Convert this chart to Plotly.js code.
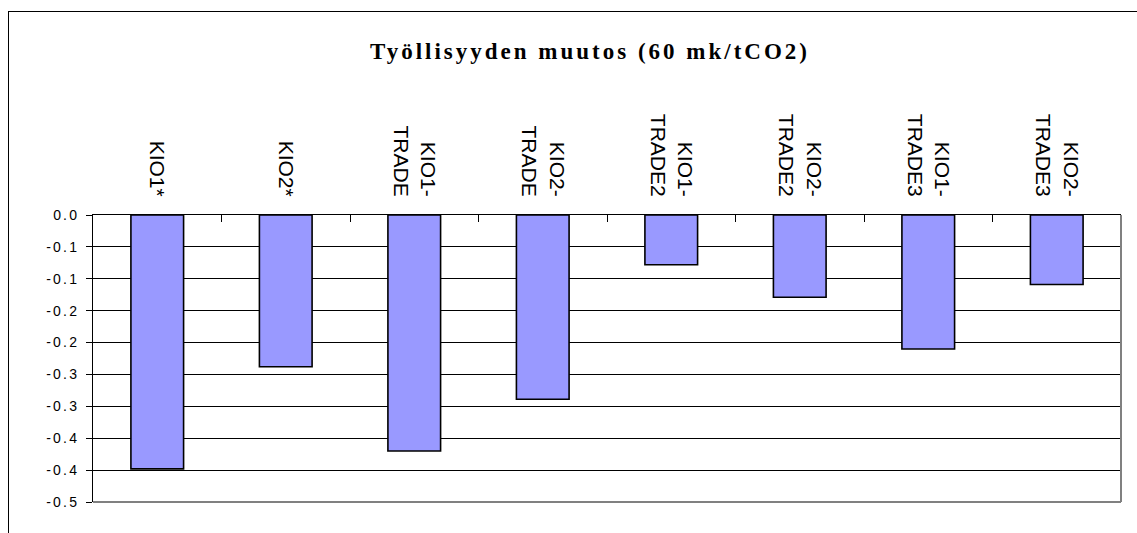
<!DOCTYPE html>
<html>
<head>
<meta charset="utf-8">
<script src="https://cdn.plot.ly/plotly-3.0.1.min.js"></script>
<style>
  html, body { margin: 0; padding: 0; background: #fff; overflow: hidden; }
  #wrap { position: relative; width: 1137px; height: 533px; overflow: hidden; }
  #chart { width: 1137px; height: 533px; }
  #frame { position: absolute; left: 8px; top: 11px; width: 3000px; height: 3000px;
           border-left: 1.5px solid #000; border-top: 1.5px solid #000; pointer-events: none; }
  .gtitle { letter-spacing: 3px; }
  .ytick text { letter-spacing: 2.2px; }
</style>
</head>
<body>
<div id="wrap">
  <div id="chart"></div>
  <div id="frame"></div>
</div>
<script>
// ---- data ----
const categories = ['KIO1*', 'KIO2*', 'KIO1-TRADE', 'KIO2-TRADE', 'KIO1-TRADE2', 'KIO2-TRADE2', 'KIO1-TRADE3', 'KIO2-TRADE3'];
const tickLabels = ['KIO1*', 'KIO2*', 'KIO1-<br>TRADE', 'KIO2-<br>TRADE', 'KIO1-<br>TRADE2', 'KIO2-<br>TRADE2', 'KIO1-<br>TRADE3', 'KIO2-<br>TRADE3'];
const values = [-0.398, -0.238, -0.370, -0.289, -0.078, -0.129, -0.210, -0.109];
const yTickVals = [0, -0.05, -0.1, -0.15, -0.2, -0.25, -0.3, -0.35, -0.4, -0.45];
const yTickText = ['0.0', '-0.1', '-0.1', '-0.2', '-0.2', '-0.3', '-0.3', '-0.4', '-0.4', '-0.5'];
const titleText = 'Työllisyyden muutos (60 mk/tCO2)';

// ---- chart ----
const trace = {
  type: 'bar',
  x: categories,
  y: values,
  marker: { color: '#9999FF', line: { color: '#000000', width: 1.6 } },
  hoverinfo: 'x+y'
};

const layout = {
  width: 1137,
  height: 533,
  margin: { l: 93, r: 16, t: 215, b: 31, pad: 0 },
  paper_bgcolor: '#ffffff',
  plot_bgcolor: '#ffffff',
  showlegend: false,
  bargap: 0.59,
  title: {
    text: titleText,
    font: { family: 'Liberation Serif, Times New Roman, serif', size: 23, color: '#000', weight: 'bold' },
    x: 590 / 1137, xanchor: 'center', xref: 'container',
    y: 1 - 51 / 533, yanchor: 'middle', yref: 'container'
  },
  xaxis: {
    type: 'category',
    side: 'top',
    tickmode: 'array',
    tickvals: categories,
    ticktext: tickLabels,
    tickangle: 90,
    tickfont: { family: 'Liberation Sans, Arial, sans-serif', size: 21, color: '#000' },
    ticks: 'inside',
    tickson: 'boundaries',
    ticklen: 7,
    tickcolor: '#000',
    ticklabelstandoff: 10,
    showgrid: false,
    showline: true,
    linecolor: '#000',
    linewidth: 1,
    zeroline: false
  },
  yaxis: {
    range: [-0.45, 0],
    tickmode: 'array',
    tickvals: yTickVals,
    ticktext: yTickText,
    tickfont: { family: 'Liberation Sans, Arial, sans-serif', size: 14, color: '#000' },
    ticks: 'outside',
    ticklen: 6,
    tickcolor: '#000',
    ticklabelstandoff: 4,
    showgrid: true,
    gridcolor: '#000',
    gridwidth: 1,
    showline: true,
    linecolor: '#000',
    linewidth: 1,
    zeroline: false
  },
  shapes: [
    // plot area border right and bottom (grey)
    { type: 'line', xref: 'paper', yref: 'paper', x0: 1, x1: 1, y0: 0, y1: 1, line: { color: '#808080', width: 2 }, layer: 'above' },
    { type: 'line', xref: 'paper', yref: 'paper', x0: 0, x1: 1, y0: 0, y1: 0, line: { color: '#808080', width: 2 }, layer: 'above' }
  ]
};

Plotly.newPlot('chart', [trace], layout, { displayModeBar: false, staticPlot: true });
</script>
</body>
</html>
